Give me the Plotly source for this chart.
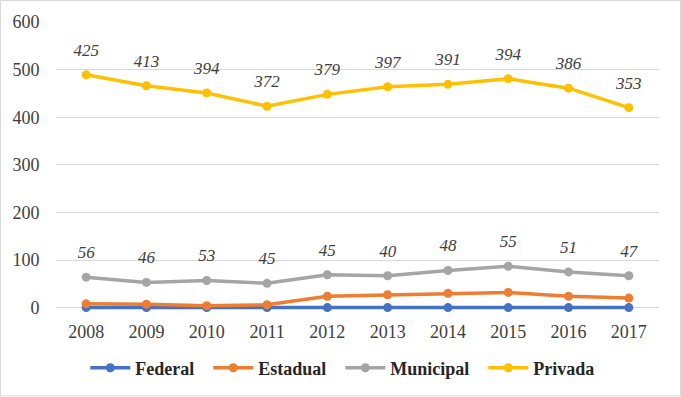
import numpy as np
import plotly.graph_objects as go

years = ["2008", "2009", "2010", "2011", "2012", "2013", "2014", "2015", "2016", "2017"]
federal = [0, 0, 0, 0, 0, 0, 0, 0, 0, 0]
estadual = [8, 7, 4, 6, 24, 27, 30, 32, 24, 20]
municipal = [56, 46, 53, 45, 45, 40, 48, 55, 51, 47]
privada = [425, 413, 394, 372, 379, 397, 391, 394, 386, 353]
y_ticks = [0, 100, 200, 300, 400, 500, 600]

names = ["Federal", "Estadual", "Municipal", "Privada"]
series = [federal, estadual, municipal, privada]
colors = ["#4472C4", "#ED7D31", "#A5A5A5", "#FFC000"]
labelled = {"Municipal", "Privada"}

font_family = "Liberation Serif"
NBSP = "\u00a0"

W, H = 681, 397
ML, MR, MT, MB = 56, 22, 22, 86.6
PW, PH = W - ML - MR, H - MT - MB

fig = go.Figure()
for name, vals, col in zip(names, series, colors):
    fig.add_trace(go.Scatter(
        x=years, y=vals, name=name + NBSP * 2, mode="lines+markers",
        stackgroup="one", fill="none",
        line=dict(color=col, width=3.5),
        marker=dict(color=col, size=9),
        cliponaxis=False,
    ))

cum = np.cumsum(np.array(series, dtype=float), axis=0)
for i, name in enumerate(names):
    if name not in labelled:
        continue
    fig.add_trace(go.Scatter(
        x=years, y=cum[i].tolist(), mode="markers+text",
        text=["<i>%d</i>" % v for v in series[i]],
        textposition="top center",
        textfont=dict(family=font_family, size=17, color="#404040"),
        marker=dict(size=22, color="rgba(0,0,0,0)"),
        showlegend=False, hoverinfo="skip", cliponaxis=False,
    ))

fig.update_layout(
    width=W, height=H,
    margin=dict(l=ML, r=MR, t=MT, b=MB, autoexpand=False),
    paper_bgcolor="white", plot_bgcolor="white",
    font=dict(family=font_family, color="#404040"),
    showlegend=True,
    legend=dict(
        orientation="h", xref="container", yref="container",
        x=0.51, xanchor="center", y=0.073, yanchor="middle",
        font=dict(family=font_family, size=18, color="#262626", weight="bold"),
        itemwidth=40, traceorder="normal",
    ),
    xaxis=dict(
        type="category", range=[-0.5, 9.5], showgrid=False,
        showline=False, zeroline=False,
        ticks="outside", ticklen=5, tickcolor="rgba(0,0,0,0)",
        tickfont=dict(family=font_family, size=18, color="#404040"),
    ),
    yaxis=dict(
        range=[-5, 600], tickvals=y_ticks, showgrid=True,
        gridcolor="#D9D9D9", gridwidth=1, zeroline=False, showline=False,
        ticks="outside", ticklen=12, tickcolor="rgba(0,0,0,0)",
        tickfont=dict(family=font_family, size=18, color="#404040"),
    ),
    shapes=[dict(
        type="rect", xref="paper", yref="paper",
        x0=(0.5 - ML) / PW, x1=(W - 0.5 - ML) / PW,
        y0=(0.5 - MB) / PH, y1=(H - MB - 0.5) / PH,
        line=dict(color="#D9D9D9", width=1), fillcolor="rgba(0,0,0,0)",
        layer="below",
    )],
)

fig.write_html("out.html", config={"displayModeBar": False},
               post_script="document.body.style.margin='0';")
